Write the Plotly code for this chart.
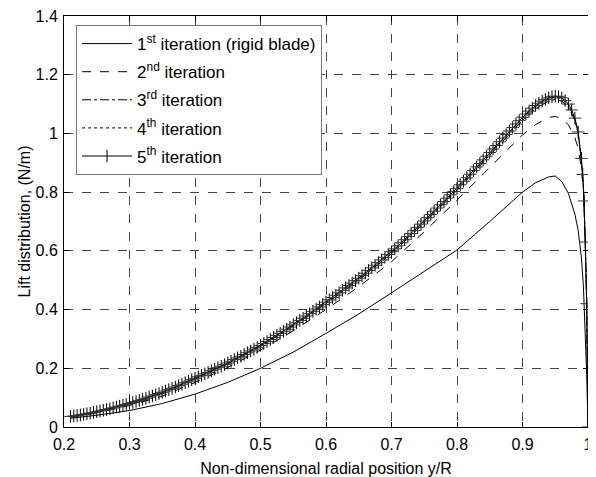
import plotly.graph_objects as go

# Base sampling positions for iterations 1-4
x_base = [0.21, 0.25, 0.30, 0.35, 0.40, 0.45, 0.50, 0.55, 0.60, 0.65, 0.70, 0.75,
          0.80, 0.85, 0.90, 0.92, 0.94, 0.95, 0.96, 0.97, 0.98, 0.985, 0.99,
          0.993, 0.996, 0.998, 1.0]

it1 = [0.030, 0.040, 0.056, 0.080, 0.112, 0.152, 0.200, 0.255, 0.319, 0.385, 0.457, 0.530,
       0.603, 0.700, 0.800, 0.832, 0.852, 0.855, 0.836, 0.796, 0.725, 0.670, 0.575,
       0.480, 0.310, 0.180, 0.0]

it2 = [0.033, 0.048, 0.073, 0.105, 0.152, 0.203, 0.262, 0.328, 0.400, 0.478, 0.563, 0.665,
       0.773, 0.885, 0.995, 1.030, 1.055, 1.058, 1.050, 1.030, 0.985, 0.950, 0.880,
       0.800, 0.620, 0.420, 0.0]

it3 = [0.035, 0.051, 0.079, 0.116, 0.164, 0.215, 0.275, 0.344, 0.420, 0.500, 0.590, 0.695,
       0.806, 0.926, 1.045, 1.085, 1.110, 1.116, 1.110, 1.090, 1.044, 1.000, 0.910,
       0.815, 0.625, 0.418, 0.0]

it4 = [0.036, 0.052, 0.080, 0.117, 0.165, 0.217, 0.277, 0.347, 0.424, 0.505, 0.595, 0.700,
       0.811, 0.932, 1.052, 1.092, 1.118, 1.124, 1.118, 1.097, 1.050, 1.003, 0.913,
       0.818, 0.628, 0.420, 0.0]

# 5th iteration (with "+" markers), dense sampling
x5 = [0.210, 0.215, 0.220, 0.225, 0.230, 0.235, 0.240, 0.245, 0.250, 0.255,
      0.260, 0.265, 0.270, 0.275, 0.280, 0.285, 0.290, 0.295, 0.300, 0.305,
      0.310, 0.315, 0.320, 0.325, 0.330, 0.335, 0.340, 0.345, 0.350, 0.355,
      0.360, 0.365, 0.370, 0.375, 0.380, 0.385, 0.390, 0.395, 0.400, 0.405,
      0.410, 0.415, 0.420, 0.425, 0.430, 0.435, 0.440, 0.445, 0.450, 0.455,
      0.460, 0.465, 0.470, 0.475, 0.480, 0.485, 0.490, 0.495, 0.500, 0.505,
      0.510, 0.515, 0.520, 0.525, 0.530, 0.535, 0.540, 0.545, 0.550, 0.555,
      0.560, 0.565, 0.570, 0.575, 0.580, 0.585, 0.590, 0.595, 0.600, 0.605,
      0.610, 0.615, 0.620, 0.625, 0.630, 0.635, 0.640, 0.645, 0.650, 0.655,
      0.660, 0.665, 0.670, 0.675, 0.680, 0.685, 0.690, 0.695, 0.700, 0.705,
      0.710, 0.715, 0.720, 0.725, 0.730, 0.735, 0.740, 0.745, 0.750, 0.755,
      0.760, 0.765, 0.770, 0.775, 0.780, 0.785, 0.790, 0.795, 0.800, 0.805,
      0.810, 0.815, 0.820, 0.825, 0.830, 0.835, 0.840, 0.845, 0.850, 0.855,
      0.860, 0.865, 0.870, 0.875, 0.880, 0.885, 0.890, 0.895, 0.900, 0.905,
      0.910, 0.915, 0.920, 0.925, 0.930, 0.935, 0.940, 0.945, 0.950, 0.955,
      0.960, 0.965, 0.970, 0.975, 0.980, 0.985, 0.990, 0.992, 0.994, 0.996,
      0.998, 1.000]
it5 = [0.036, 0.0375, 0.039, 0.041, 0.043, 0.045, 0.047, 0.0495, 0.052, 0.0545,
       0.057, 0.0595, 0.062, 0.065, 0.068, 0.071, 0.074, 0.077, 0.080, 0.0835,
       0.087, 0.0905, 0.094, 0.098, 0.102, 0.106, 0.110, 0.114, 0.118, 0.1225,
       0.127, 0.1315, 0.136, 0.141, 0.146, 0.151, 0.156, 0.161, 0.166, 0.171,
       0.176, 0.181, 0.186, 0.1915, 0.197, 0.202, 0.207, 0.2125, 0.218, 0.224,
       0.230, 0.2355, 0.241, 0.247, 0.253, 0.259, 0.265, 0.2715, 0.278, 0.2845,
       0.291, 0.298, 0.305, 0.312, 0.319, 0.326, 0.333, 0.3405, 0.348, 0.3555,
       0.363, 0.3705, 0.378, 0.386, 0.394, 0.4015, 0.409, 0.417, 0.425, 0.433,
       0.441, 0.449, 0.457, 0.4655, 0.474, 0.482, 0.490, 0.4985, 0.507, 0.5155,
       0.524, 0.533, 0.542, 0.551, 0.560, 0.569, 0.578, 0.5875, 0.597, 0.607,
       0.617, 0.6275, 0.638, 0.6485, 0.659, 0.6695, 0.680, 0.691, 0.702, 0.713,
       0.724, 0.735, 0.746, 0.757, 0.768, 0.7795, 0.791, 0.802, 0.813, 0.825,
       0.837, 0.849, 0.861, 0.8735, 0.886, 0.898, 0.910, 0.9225, 0.935, 0.947,
       0.959, 0.9715, 0.984, 0.996, 1.008, 1.020, 1.032, 1.0435, 1.055, 1.066,
       1.076, 1.086, 1.095, 1.103, 1.110, 1.116, 1.121, 1.125, 1.127, 1.125,
       1.121, 1.112, 1.100, 1.080, 1.052, 1.005, 0.915, 0.860, 0.770, 0.630,
       0.420, 0.0]

names = ["1<sup>st</sup> iteration (rigid blade)", "2<sup>nd</sup> iteration",
         "3<sup>rd</sup> iteration", "4<sup>th</sup> iteration", "5<sup>th</sup> iteration"]

x_ticks = [0.2, 0.3, 0.4, 0.5, 0.6, 0.7, 0.8, 0.9, 1.0]
x_tick_text = ["0.2", "0.3", "0.4", "0.5", "0.6", "0.7", "0.8", "0.9", "1"]
y_ticks = [0, 0.2, 0.4, 0.6, 0.8, 1.0, 1.2, 1.4]
y_tick_text = ["0", "0.2", "0.4", "0.6", "0.8", "1", "1.2", "1.4"]

FONT = "Liberation Sans, Arial, sans-serif"

fig = go.Figure()
fig.add_trace(go.Scatter(x=x_base, y=it1, mode="lines", name=names[0], legendgroup="g1",
                         line=dict(color="black", width=1)))
fig.add_trace(go.Scatter(x=x_base, y=it2, mode="lines", name=names[1], legendgroup="g2",
                         line=dict(color="black", width=1, dash="dash")))
fig.add_trace(go.Scatter(x=x_base, y=it3, mode="lines", name=names[2], legendgroup="g3",
                         line=dict(color="black", width=1, dash="dashdot")))
fig.add_trace(go.Scatter(x=x_base, y=it4, mode="lines", name=names[3], legendgroup="g4",
                         line=dict(color="black", width=1, dash="dot")))
fig.add_trace(go.Scatter(x=x5, y=it5, mode="lines+markers", name=names[4], legendgroup="g5",
                         line=dict(color="black", width=1),
                         marker=dict(symbol="line-ns", size=9, color="black",
                                     line=dict(color="black", width=1))))
# horizontal bar of the "+" marker
fig.add_trace(go.Scatter(x=x5, y=it5, mode="markers", showlegend=False, legendgroup="g5",
                         marker=dict(symbol="line-ew", size=9, color="black",
                                     line=dict(color="#333333", width=1))))

axis_common = dict(
    showline=True, linecolor="black", linewidth=1, mirror="ticks",
    ticks="inside", ticklen=5, tickcolor="black",
    showgrid=True, gridcolor="#444444", griddash="dash", gridwidth=1,
    zeroline=False, automargin=False, ticklabeloverflow="allow",
    tickfont=dict(family=FONT, size=16, color="black"),
)

# The page body has an 8px default margin, so the figure is sized 8px smaller
fig.update_layout(
    width=588, height=469,
    margin=dict(l=56, r=8, t=8, b=50),
    paper_bgcolor="white", plot_bgcolor="white",
    font=dict(family=FONT, size=16, color="black"),
    xaxis=dict(range=[0.2, 1.0], tickvals=x_ticks, ticktext=x_tick_text,
               ticklabelstandoff=3,
               title=dict(text="Non-dimensional radial position y/R", standoff=10,
                          font=dict(family=FONT, size=16)),
               **axis_common),
    yaxis=dict(range=[0, 1.4], tickvals=y_ticks, ticktext=y_tick_text,
               ticklabelstandoff=2,
               title=dict(text="Lift distribution, (N/m)", standoff=0,
                          font=dict(family=FONT, size=16)),
               **axis_common),
    legend=dict(x=0.023, y=0.978, xanchor="left", yanchor="top",
                bgcolor="white", bordercolor="#777777", borderwidth=1,
                font=dict(family=FONT, size=17, color="black"),
                itemwidth=50,
                tracegroupgap=3, traceorder="grouped"),
    showlegend=True,
)

fig.write_html("out.html")
